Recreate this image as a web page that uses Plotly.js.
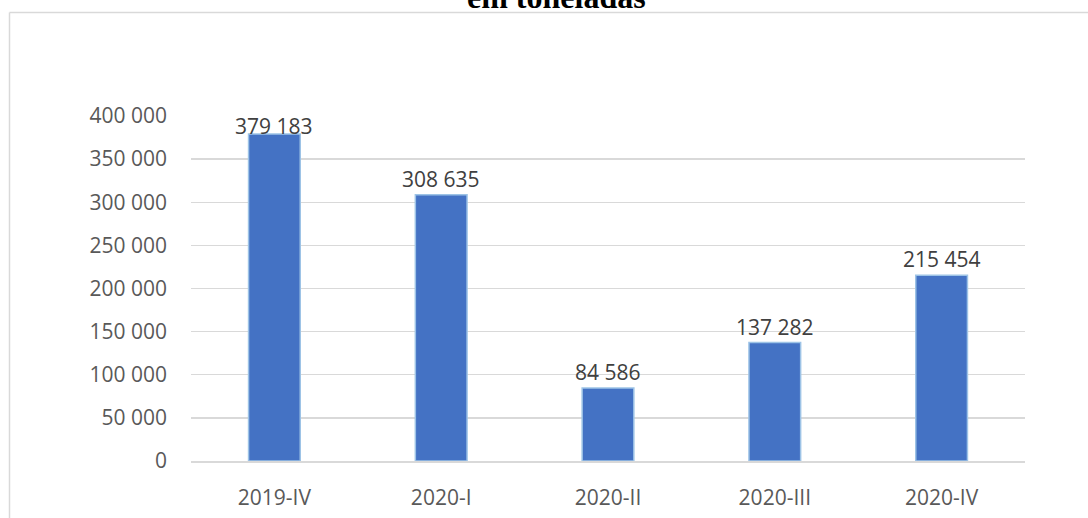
<!DOCTYPE html>
<html>
<head>
<meta charset="utf-8">
<script src="https://cdn.plot.ly/plotly-3.0.1.min.js"></script>
<style>
html,body{margin:0;padding:0;background:#fff;}
#chart{width:1088px;height:518px;}
</style>
</head>
<body>
<div id="chart"></div>
<script>
const categories = ["2019-IV", "2020-I", "2020-II", "2020-III", "2020-IV"];
const values = [379183, 308635, 84586, 137282, 215454];
const titleText = "em toneladas";

const W = 1088, H = 518;
const mL = 191, mR = 63, mT = 116, mB = 57;
const pw = W - mL - mR, ph = H - mT - mB;
const yMax = 400000;
const px = x => (x - mL) / pw;
const py = y => (H - mB - y) / ph;

const trace = {
  type: "bar",
  x: categories,
  y: values,
  marker: {color: "#4472C4", line: {color: "#9DC3E6", width: 1.5}},
  hoverinfo: "none"
};

const fmt = v => String(v).replace(/\B(?=(\d{3})+(?!\d))/g, " ");

// labels sit above the bar, but are kept inside the plot area (like the source chart)
const labelAnnotations = categories.map((c, i) => {
  const barTopPx = mT + (1 - values[i] / yMax) * ph;
  const shift = Math.min(16, barTopPx - (mT + 10));
  return {
    x: c, y: values[i], xref: "x", yref: "y",
    text: fmt(values[i]),
    showarrow: false,
    xanchor: "center", yanchor: "middle",
    yshift: shift,
    font: {family: "Open Sans, sans-serif", size: 21, color: "#404040"}
  };
});

const layout = {
  width: W, height: H,
  margin: {l: mL, r: mR, t: mT, b: mB, pad: 0},
  paper_bgcolor: "#ffffff",
  plot_bgcolor: "#ffffff",
  separators: ", ",
  showlegend: false,
  bargap: 0.69,
  font: {family: "Open Sans, sans-serif", size: 21, color: "#595959"},
  xaxis: {
    type: "category",
    showgrid: false,
    showline: true,
    linecolor: "#d9d9d9",
    linewidth: 2,
    ticks: "",
    ticklabelstandoff: 17,
    tickfont: {family: "Open Sans, sans-serif", size: 21, color: "#595959"}
  },
  yaxis: {
    range: [0, yMax],
    tickvals: [0, 50000, 100000, 150000, 200000, 250000, 300000, 350000, 400000],
    tickformat: ",d",
    showgrid: true,
    gridcolor: "#d9d9d9",
    gridwidth: 1.3,
    zeroline: false,
    showline: false,
    ticks: "",
    ticklabelstandoff: 23,
    tickfont: {family: "Open Sans, sans-serif", size: 21, color: "#595959"}
  },
  annotations: [{
    text: "<b>" + titleText + "</b>",
    xref: "paper", yref: "paper",
    x: px(556), y: py(-3),
    xanchor: "center", yanchor: "middle",
    showarrow: false,
    font: {family: "Liberation Serif, Times New Roman, serif", size: 32, color: "#000000"}
  }].concat(labelAnnotations),
  shapes: [
    {type: "line", xref: "paper", yref: "paper", x0: px(9.5), x1: px(W + 5), y0: py(12.5), y1: py(12.5), line: {color: "#d9d9d9", width: 1.5}},
    {type: "line", xref: "paper", yref: "paper", x0: px(9.5), x1: px(9.5), y0: py(12.5), y1: py(H + 5), line: {color: "#d9d9d9", width: 1.5}}
  ]
};

Plotly.newPlot("chart", [trace], layout, {staticPlot: true, displayModeBar: false});
</script>
</body>
</html>
